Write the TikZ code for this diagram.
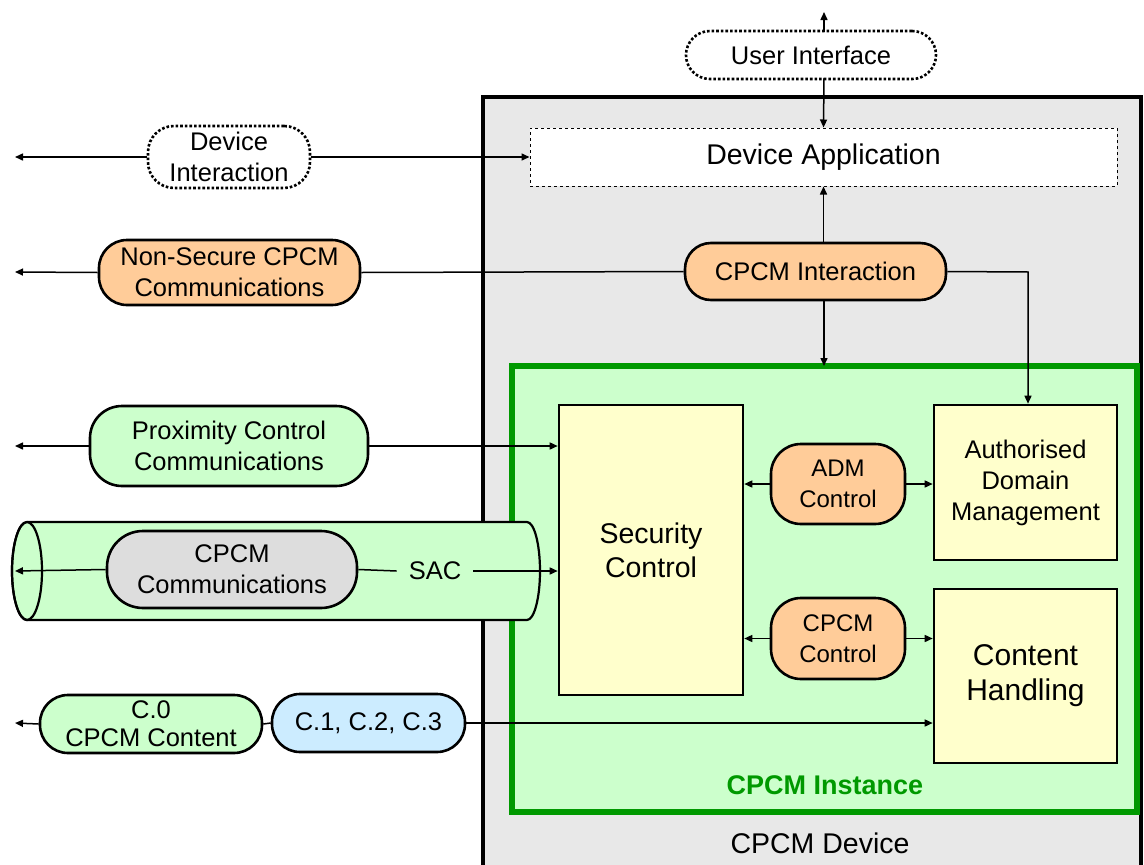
\documentclass[tikz,border=0pt]{standalone}
\usepackage{fontspec}
\setmainfont{Liberation Sans}
\usetikzlibrary{arrows.meta}
\definecolor{devgray}{HTML}{E8E8E8}
\definecolor{instgreen}{HTML}{CCFFCC}
\definecolor{darkgreen}{HTML}{009900}
\definecolor{orangefill}{HTML}{FFCC99}
\definecolor{yellowfill}{HTML}{FFFFCC}
\definecolor{grayfill}{HTML}{DDDDDD}
\definecolor{bluefill}{HTML}{CCECFF}
\tikzset{
  txt/.style={font=\fontsize{25.5}{31}\selectfont, align=center, inner sep=0pt},
  pill/.style={txt, draw=black, line width=2.6pt, rounded corners=#1},
  pill/.default=28pt,
  orangepill/.style={pill=#1, fill=orangefill},
  orangepill/.default=28pt,
  greenpill/.style={pill=#1, fill=instgreen},
  greenpill/.default=28pt,
  dotpill/.style={txt, draw=black, line width=2.6pt, dotted, fill=white, rounded corners=#1},
  dotpill/.default=25pt,
  funcbox/.style={txt, draw=black, line width=2.6pt, fill=yellowfill},
  conn/.style={line width=1.5pt, draw=black},
  arr/.style={conn, -{Triangle[length=8pt,width=7pt]}},
}
\begin{document}
\begin{tikzpicture}[x=1pt,y=-1pt]
\useasboundingbox (0,0) rectangle (1144,865);
\clip (0,0) rectangle (1144,865);
% CPCM Device box
\draw[line width=4pt, fill=devgray] (483,97) rectangle (1141,900);
\node[txt, font=\fontsize{28.5}{34}\selectfont] (devlabel) at (820,843) {CPCM Device};
% CPCM Instance box
\draw[line width=6pt, draw=darkgreen, fill=instgreen] (512,366) rectangle (1137,812);
\node[txt, font=\fontsize{27}{32}\selectfont\bfseries, text=darkgreen] (instlabel) at (825,785) {CPCM Instance};
% tube (SAC)
\draw[line width=2.2pt, fill=instgreen] (27,522) -- (527,522)
  arc[start angle=-90, end angle=90, x radius=13, y radius=49] -- (27,620)
  arc[start angle=90, end angle=270, x radius=15, y radius=49] -- cycle;
\draw[line width=2.2pt] (27,571) ellipse [x radius=15, y radius=49];

% nodes
\node[txt, draw=black, line width=1pt, dashed, fill=white, minimum width=587pt, minimum height=58pt,
  font=\fontsize{28.5}{34}\selectfont] (da) at (823.5,157) {Device Application};
\node[dotpill=24pt, minimum width=250pt, minimum height=48pt] (ui) at (811,55) {User Interface};
\node[dotpill=26pt, minimum width=162pt, minimum height=62pt] (di) at (229,157) {Device\\Interaction};
\node[orangepill=28pt, minimum width=261pt, minimum height=65pt] (nsc) at (229.5,272.5) {Non-Secure CPCM\\Communications};
\node[orangepill=26pt, minimum width=261pt, minimum height=57pt] (cpi) at (815.5,271.5) {CPCM Interaction};
\node[greenpill=32pt, minimum width=278pt, minimum height=80pt] (pcc) at (229,446) {Proximity Control\\Communications};
\node[funcbox, minimum width=184pt, minimum height=290pt, font=\fontsize{28.5}{34}\selectfont] (sc) at (651,550) {Security\\Control};
\node[funcbox, minimum width=183pt, minimum height=155pt] (adm) at (1025.5,482.5) {Authorised\\Domain\\Management};
\node[funcbox, minimum width=183pt, minimum height=174pt, font=\fontsize{30}{35}\selectfont] (ch) at (1025.5,676) {Content\\Handling};
\node[orangepill=30pt, minimum width=134pt, minimum height=80pt, font=\fontsize{24}{31}\selectfont] (admc) at (838,484) {ADM\\Control};
\node[orangepill=30pt, minimum width=134pt, minimum height=81pt, font=\fontsize{24}{31}\selectfont] (cpcmc) at (838,638.5) {CPCM\\Control};
\node[pill=36pt, fill=grayfill, minimum width=250pt, minimum height=77pt] (cc) at (232,569.5) {CPCM\\Communications};
\node[txt, fill=instgreen, inner xsep=12pt, inner ysep=3pt] (sac) at (435,571) {SAC};
\node[greenpill=28pt, minimum width=222pt, minimum height=58pt, font=\fontsize{25.5}{28}\selectfont] (c0) at (151,724) {C.0\\CPCM Content};
\node[pill=28pt, fill=bluefill, minimum width=193pt, minimum height=58pt] (c123) at (368.5,723) {C.1, C.2, C.3};

% connector end points
\coordinate (uitop) at (824,12);
\coordinate (lx1) at (15,157);
\coordinate (lx2) at (15,272);
\coordinate (lx3) at (15,446);
\coordinate (lx4) at (15,571);
\coordinate (lx5) at (15,723);
\coordinate (insttop) at (824,366);
\coordinate (bend) at (1028,272);

% connectors
\draw[arr] (824,32) -- (uitop);
\draw[arr] (824,78) -- (da.north);
\draw[arr] (di.west) -- (lx1);
\draw[arr] (di.east) -- (da.west);
\draw[arr] (nsc.west) -- (lx2);
\draw[conn] (nsc.east) -- (cpi.west);
\draw[arr] (cpi.north -| da.south) -- (da.south);
\draw[arr] (cpi.south -| insttop) -- (insttop);
\draw[arr] (cpi.east) -- (bend) -- (bend |- adm.north);
\draw[arr] (pcc.west) -- (lx3);
\draw[arr] (pcc.east) -- (pcc.east -| sc.west);
\draw[arr] (cc.west) -- (lx4);
\draw[conn] (cc.east) -- (sac.west);
\draw[arr] (sac.east) -- (sac.east -| sc.west);
\draw[arr] (admc.west) -- (admc.west -| sc.east);
\draw[arr] (admc.east) -- (admc.east -| adm.west);
\draw[arr] (cpcmc.west) -- (cpcmc.west -| sc.east);
\draw[arr] (cpcmc.east) -- (cpcmc.east -| ch.west);
\draw[arr] (c0.west) -- (lx5);
\draw[conn] (c0.east) -- (c123.west);
\draw[arr] (c123.east) -- (c123.east -| ch.west);
\end{tikzpicture}
\end{document}
